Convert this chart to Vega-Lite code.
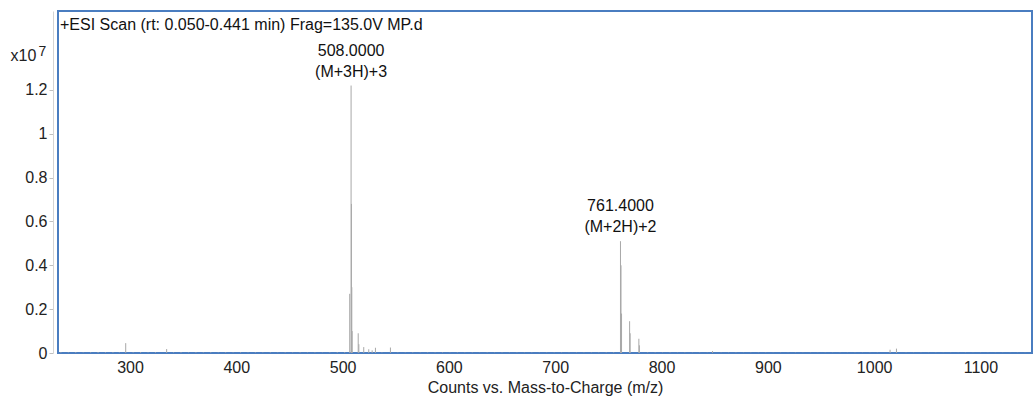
{
  "$schema": "https://vega.github.io/schema/vega-lite/v6.json",
  "width": 974,
  "height": 342,
  "autosize": {"type": "none"},
  "padding": {"left": 58, "top": 11, "right": 1, "bottom": 46},
  "background": "white",
  "config": {
    "view": {"stroke": "#4a7dc0", "strokeWidth": 2},
    "font": "Liberation Sans",
    "axis": {"labelFont": "Liberation Sans", "titleFont": "Liberation Sans", "grid": false}
  },
  "title": {
    "text": "+ESI Scan (rt: 0.050-0.441 min) Frag=135.0V MP.d",
    "anchor": "start",
    "frame": "group",
    "orient": "top",
    "offset": -22,
    "dx": 2,
    "fontSize": 16,
    "fontWeight": "normal",
    "font": "Liberation Sans",
    "color": "#111"
  },
  "resolve": {"axis": {"y": "independent"}},
  "encoding": {
    "x": {
      "field": "mz",
      "type": "quantitative",
      "scale": {"domain": [232.3, 1148.5], "nice": false, "zero": false},
      "axis": {
        "title": "Counts vs. Mass-to-Charge (m/z)",
        "values": [300, 400, 500, 600, 700, 800, 900, 1000, 1100],
        "format": "d",
        "ticks": false,
        "domain": false,
        "labelPadding": 6,
        "labelFontSize": 16,
        "labelColor": "#222",
        "titleFontSize": 16,
        "titleFontWeight": "normal",
        "titleColor": "#222",
        "titlePadding": 4
      }
    }
  },
  "layer": [
    {
      "data": {
        "values": [
          {"mz": 235, "counts": 30000}, {"mz": 242, "counts": 22000}, {"mz": 249, "counts": 35000}, {"mz": 256, "counts": 18000},
          {"mz": 263, "counts": 28000}, {"mz": 270, "counts": 40000}, {"mz": 277, "counts": 25000}, {"mz": 284, "counts": 32000},
          {"mz": 290, "counts": 20000}, {"mz": 296.0, "counts": 450000}, {"mz": 303, "counts": 26000}, {"mz": 310, "counts": 38000},
          {"mz": 317, "counts": 21000}, {"mz": 324, "counts": 30000}, {"mz": 334.5, "counts": 180000}, {"mz": 341, "counts": 24000},
          {"mz": 348, "counts": 33000}, {"mz": 355, "counts": 19000}, {"mz": 362, "counts": 27000}, {"mz": 369, "counts": 22000},
          {"mz": 376, "counts": 30000}, {"mz": 383, "counts": 18000}, {"mz": 390, "counts": 25000}, {"mz": 397, "counts": 20000},
          {"mz": 404, "counts": 28000}, {"mz": 411, "counts": 17000}, {"mz": 418, "counts": 24000}, {"mz": 425, "counts": 19000},
          {"mz": 432, "counts": 26000}, {"mz": 439, "counts": 15000}, {"mz": 446, "counts": 22000}, {"mz": 453, "counts": 18000},
          {"mz": 460, "counts": 25000}, {"mz": 467, "counts": 16000}, {"mz": 474, "counts": 21000}, {"mz": 481, "counts": 14000},
          {"mz": 488, "counts": 23000}, {"mz": 495, "counts": 30000}, {"mz": 502, "counts": 35000},
          {"mz": 506.7, "counts": 2700000}, {"mz": 508.0, "counts": 12200000}, {"mz": 508.33, "counts": 6800000},
          {"mz": 508.67, "counts": 3000000}, {"mz": 509.0, "counts": 1000000}, {"mz": 514.7, "counts": 900000},
          {"mz": 515.3, "counts": 400000}, {"mz": 519.9, "counts": 270000}, {"mz": 524.6, "counts": 170000},
          {"mz": 527.8, "counts": 120000}, {"mz": 530.9, "counts": 240000}, {"mz": 537, "counts": 20000},
          {"mz": 545.0, "counts": 250000}, {"mz": 552, "counts": 18000}, {"mz": 559, "counts": 15000}, {"mz": 566, "counts": 22000},
          {"mz": 573, "counts": 14000}, {"mz": 580, "counts": 19000}, {"mz": 587, "counts": 16000}, {"mz": 594, "counts": 21000},
          {"mz": 601, "counts": 13000}, {"mz": 608, "counts": 18000}, {"mz": 615, "counts": 15000}, {"mz": 622, "counts": 20000},
          {"mz": 629, "counts": 12000}, {"mz": 636, "counts": 17000}, {"mz": 643, "counts": 14000}, {"mz": 650, "counts": 19000},
          {"mz": 657, "counts": 12000}, {"mz": 664, "counts": 16000}, {"mz": 671, "counts": 13000}, {"mz": 678, "counts": 18000},
          {"mz": 685, "counts": 11000}, {"mz": 692, "counts": 15000}, {"mz": 699, "counts": 13000}, {"mz": 706, "counts": 17000},
          {"mz": 713, "counts": 12000}, {"mz": 720, "counts": 16000}, {"mz": 727, "counts": 14000}, {"mz": 734, "counts": 18000},
          {"mz": 741, "counts": 15000}, {"mz": 748, "counts": 20000}, {"mz": 755, "counts": 26000},
          {"mz": 761.4, "counts": 5100000}, {"mz": 761.9, "counts": 4000000}, {"mz": 762.4, "counts": 1800000},
          {"mz": 770.0, "counts": 1450000}, {"mz": 770.5, "counts": 900000}, {"mz": 778.7, "counts": 650000},
          {"mz": 779.2, "counts": 350000}, {"mz": 787, "counts": 22000}, {"mz": 794, "counts": 17000}, {"mz": 801, "counts": 14000},
          {"mz": 808, "counts": 18000}, {"mz": 815, "counts": 12000}, {"mz": 822, "counts": 16000}, {"mz": 829, "counts": 13000},
          {"mz": 836, "counts": 15000}, {"mz": 843, "counts": 12000}, {"mz": 848, "counts": 90000}, {"mz": 856, "counts": 14000},
          {"mz": 863, "counts": 11000}, {"mz": 870, "counts": 15000}, {"mz": 877, "counts": 10000}, {"mz": 884, "counts": 13000},
          {"mz": 891, "counts": 11000}, {"mz": 898, "counts": 14000}, {"mz": 905, "counts": 10000}, {"mz": 912, "counts": 12000},
          {"mz": 919, "counts": 9000}, {"mz": 926, "counts": 13000}, {"mz": 933, "counts": 10000}, {"mz": 940, "counts": 12000},
          {"mz": 947, "counts": 9000}, {"mz": 954, "counts": 11000}, {"mz": 961, "counts": 10000}, {"mz": 968, "counts": 12000},
          {"mz": 975, "counts": 9000}, {"mz": 982, "counts": 11000}, {"mz": 989, "counts": 10000}, {"mz": 996, "counts": 12000},
          {"mz": 1003, "counts": 11000}, {"mz": 1015, "counts": 150000}, {"mz": 1021, "counts": 200000}, {"mz": 1030, "counts": 13000},
          {"mz": 1037, "counts": 10000}, {"mz": 1044, "counts": 12000}, {"mz": 1051, "counts": 9000}, {"mz": 1058, "counts": 11000},
          {"mz": 1065, "counts": 8000}, {"mz": 1072, "counts": 10000}, {"mz": 1079, "counts": 9000}, {"mz": 1086, "counts": 11000},
          {"mz": 1093, "counts": 8000}, {"mz": 1100, "counts": 10000}, {"mz": 1107, "counts": 9000}, {"mz": 1114, "counts": 8000},
          {"mz": 1121, "counts": 10000}, {"mz": 1128, "counts": 7000}, {"mz": 1135, "counts": 9000}, {"mz": 1142, "counts": 8000}
        ]
      },
      "mark": {"type": "rule", "color": "#a8a8a8", "strokeWidth": 1},
      "encoding": {
        "y": {
          "field": "counts",
          "type": "quantitative",
          "scale": {"domain": [0, 15600000], "nice": false},
          "axis": {
            "orient": "left",
            "title": "x10",
            "titleAngle": 0,
            "titleX": -43,
            "titleY": 49,
            "titleAlign": "left",
            "titleBaseline": "alphabetic",
            "titleFontSize": 16,
            "titleFontWeight": "normal",
            "titleColor": "#222",
            "values": [0, 2000000, 4000000, 6000000, 8000000, 10000000, 12000000],
            "labelExpr": "datum.value / 10000000",
            "offset": 5,
            "tickSize": 4,
            "labelPadding": 2,
            "labelFontSize": 16,
            "labelColor": "#222",
            "domainColor": "#d4d4d4",
            "tickColor": "#c0c0c0"
          }
        },
        "y2": {"datum": 0}
      }
    },
    {
      "data": {
        "values": [
          {"mz": 508.0, "counts": 12200000, "label": "508.0000\n(M+3H)+3"},
          {"mz": 761.4, "counts": 5100000, "label": "761.4000\n(M+2H)+2"}
        ]
      },
      "mark": {"type": "text", "baseline": "bottom", "align": "center", "dy": -27, "fontSize": 16, "lineBreak": "\n", "lineHeight": 21, "color": "#111", "font": "Liberation Sans"},
      "encoding": {
        "y": {
          "field": "counts",
          "type": "quantitative",
          "axis": {
            "orient": "left",
            "title": "7",
            "labels": false,
            "ticks": false,
            "domain": false,
            "offset": 5,
            "titleAngle": 0,
            "titleX": -15,
            "titleY": 44,
            "titleAlign": "left",
            "titleBaseline": "alphabetic",
            "titleFontSize": 14,
            "titleFontWeight": "normal",
            "titleColor": "#222"
          }
        },
        "text": {"field": "label"}
      }
    }
  ]
}
